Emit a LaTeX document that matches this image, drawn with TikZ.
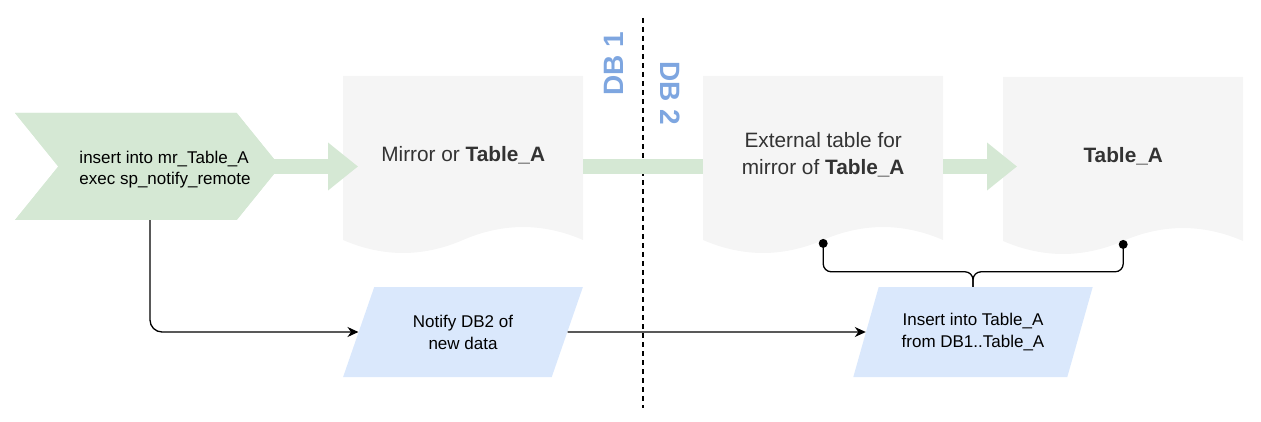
\documentclass[tikz,border=0pt]{standalone}
\usepackage{xcolor}
\usepackage{fontspec}
\setmainfont{Liberation Sans}
\usepackage{tikz}
\usetikzlibrary{shapes.symbols,shapes.geometric,arrows.meta}

\definecolor{flowgreen}{HTML}{D5E8D4}
\definecolor{docgray}{HTML}{F5F5F5}
\definecolor{noteblue}{HTML}{DAE8FC}
\definecolor{dblabel}{HTML}{7EA6E0}
\definecolor{doctext}{HTML}{333333}

% document shape: left, top (240 wide, wavy bottom)
\newcommand{\docshape}[2]{%
  \fill[docgray] (#1,#2) -- ++(240,0) -- ++(0,164)
    .. controls +(-40,-17.3) and +(40,-17.3) .. ++(-120,0)
    .. controls +(-40,17.3) and +(40,17.3) .. ++(-120,0) -- cycle;}

\begin{document}
\begin{tikzpicture}[x=1pt,y=-1pt,
    docbox/.style={minimum width=240, minimum height=158, inner sep=0,
      text=doctext, align=center, font=\fontsize{20.8}{27}\selectfont},
    chevbox/.style={signal, signal to=east, signal from=west,
      signal pointer angle=102, fill=flowgreen, minimum width=265,
      minimum height=107, inner sep=0},
    iobox/.style={trapezium, trapezium left angle=63, trapezium right angle=117,
      trapezium stretches=true, minimum width=240, minimum height=90,
      inner sep=0, fill=noteblue, align=center, font=\fontsize{17}{22}\selectfont},
    dbtag/.style={text=dblabel, font=\fontsize{28}{30}\selectfont\bfseries},
    flex/.style={flowgreen, line width=15, -{Triangle[length=30pt,width=46pt]}},
    conn/.style={line width=1.3, -{Stealth[length=11pt,width=10pt]}}]
    \useasboundingbox (0,0) rectangle (1261,422);

    \coordinate (divtop) at (643,18);
    \coordinate (divbot) at (643,408);
    \draw[line width=1.4,dash pattern=on 5pt off 4pt] (divtop) -- (divbot);

    \docshape{343}{76}
    \docshape{703}{76}
    \docshape{1003}{77}

    \node[docbox, anchor=north west] (mirror) at (343,76) {Mirror or \textbf{Table\_A}};
    \node[docbox, anchor=north west] (ext) at (703,76) {External table for\\mirror of \textbf{Table\_A}};
    \node[docbox, anchor=north west] (tbl) at (1003,77) {\textbf{Table\_A}};

    \node[chevbox] (chev) at (147.5,166.5) {};
    \draw[flex] ([xshift=-20]chev.east) -- ([xshift=15]chev.east -| mirror.west);
    \draw[flowgreen, line width=15] (chev.east -| mirror.east) -- (chev.east -| ext.west);
    \draw[flex] (chev.east -| ext.east) -- ([xshift=14]chev.east -| tbl.west);
    \node[chevbox] at (chev) {};
    \node[font=\fontsize{17}{21}\selectfont, align=left] (chevtxt) at (165,170)
      {insert into mr\_Table\_A\\exec sp\_notify\_remote};

    \node[iobox] (notify) at (463,332) {Notify DB2 of\\new data};
    \node[iobox] (insert) at (973,332) {Insert into Table\_A\\from DB1..Table\_A};

    \node[dbtag, rotate=90] (db1) at (614,64) {DB 1};
    \node[dbtag, rotate=-90] (db2) at (670,93) {DB 2};

    \draw[conn, rounded corners=12] ([xshift=2.5]chev.south) |- (notify);
    \draw[conn] (notify) -- (insert);

    \coordinate (extdot) at ([yshift=-9]ext.south);
    \coordinate (tbldot) at ([yshift=-9]tbl.south);
    \draw[line width=1.3, rounded corners=8] (insert.north) -- ++(0,-15) -| (extdot);
    \draw[line width=1.3, rounded corners=8] (insert.north) -- ++(0,-15) -| (tbldot);
    \fill (extdot) circle (4.5);
    \fill (tbldot) circle (4.5);
\end{tikzpicture}
\end{document}
